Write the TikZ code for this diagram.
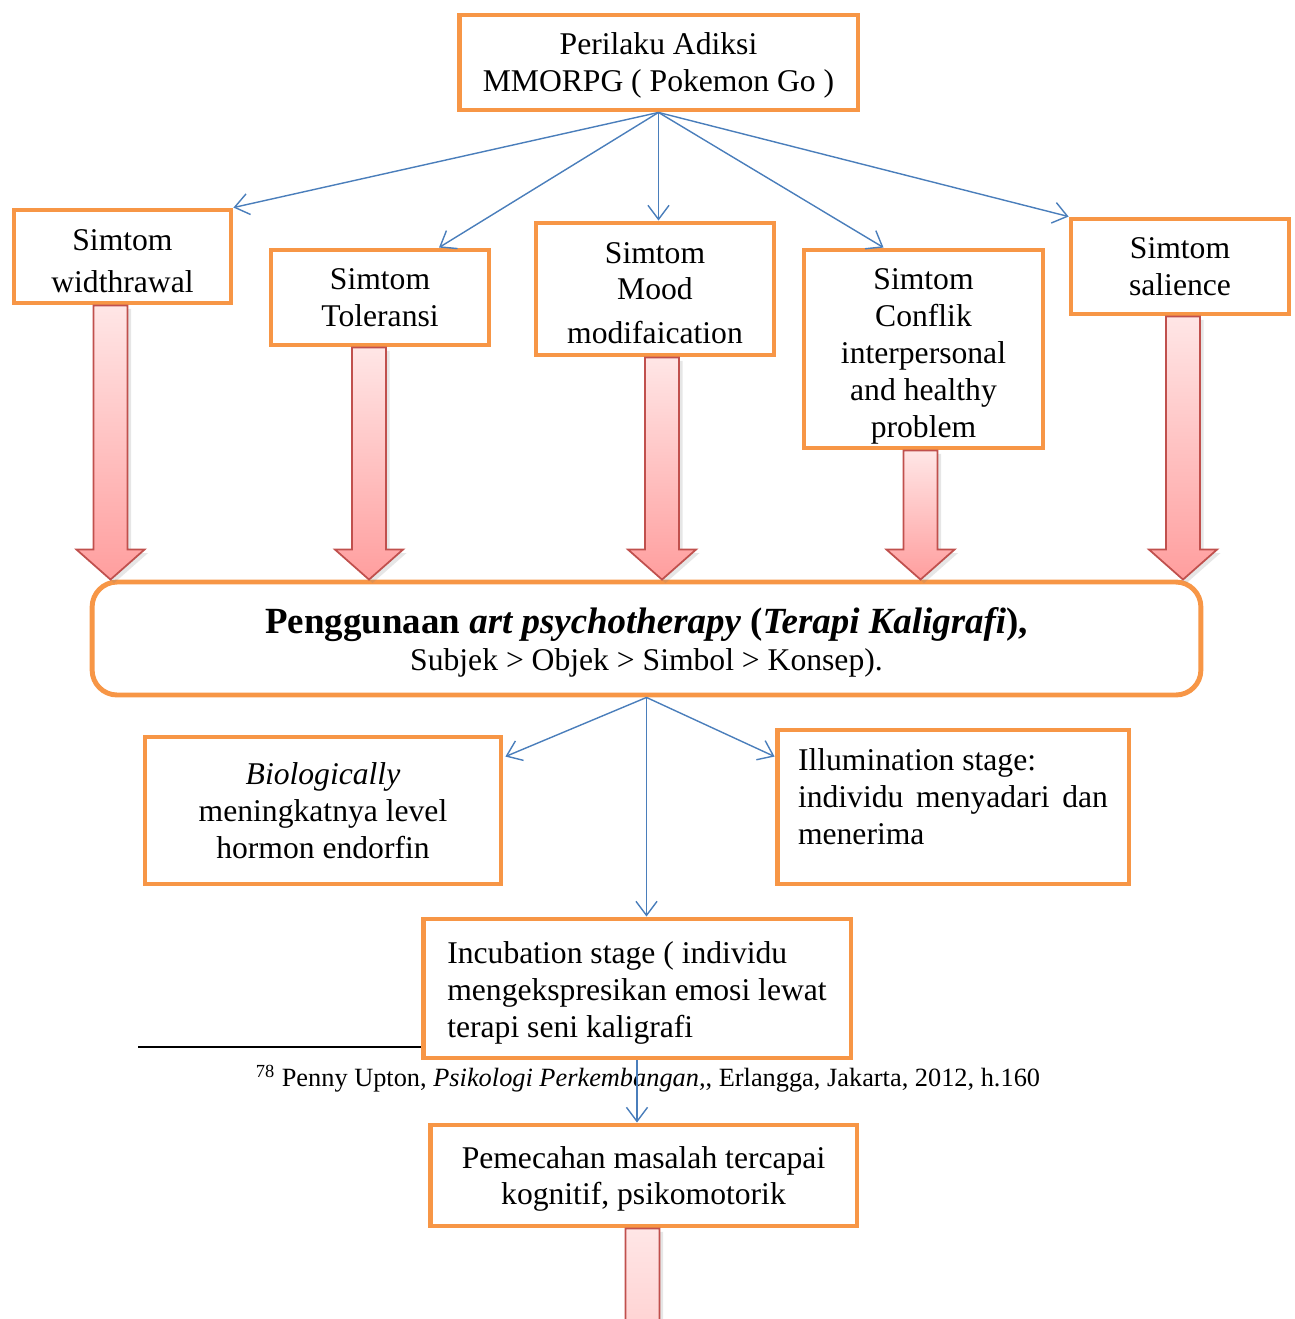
\documentclass[tikz,border=0pt]{standalone}
\usepackage{fontspec}
\setmainfont{Liberation Serif}
\usetikzlibrary{arrows.meta,calc,shadows}

\definecolor{boxorange}{HTML}{F79646}
\definecolor{linkblue}{HTML}{4A7EBB}
\definecolor{arrowred}{HTML}{C0504D}
\definecolor{arrowtop}{HTML}{FFE6E6}
\definecolor{arrowbot}{HTML}{FF9E9E}

% invisible strut that pushes the text of a box down a little
\newcommand{\toppad}[1]{\rule{0pt}{#1}}

% block arrow from #1 (top of shaft) down to the level of #2
\newcommand{\bigarrow}[2]{%
  \shadedraw[bigarrow] ($(#1)+(-17,0)$) -- ($(#1 |- #2)+(-17,-30)$)
    -- ($(#1 |- #2)+(-34,-30)$) -- (#1 |- #2) -- ($(#1 |- #2)+(34,-30)$)
    -- ($(#1 |- #2)+(17,-30)$) -- ($(#1)+(17,0)$) -- cycle;}

\begin{document}
\begin{tikzpicture}[x=0.02cm,y=-0.02cm,
  box/.style={draw=boxorange, line width=2.8pt, fill=white, align=center,
    font=\fontsize{18}{21}\selectfont, inner sep=0pt},
  link/.style={draw=linkblue, line width=0.8pt, -{Straight Barb[length=8pt,width=12pt]}},
  bigarrow/.style={draw=arrowred, line width=1pt, top color=arrowtop, bottom color=arrowbot,
    drop shadow={shadow xshift=2pt, shadow yshift=-2pt, opacity=0.2}}]
\useasboundingbox (0,0) rectangle (1295,1319);
\clip (0,0) rectangle (1295,1319);

% footnote rule (behind the incubation box)
\draw[line width=1.1pt] (138,1047) -- (560,1047);

\node[box, minimum width=7.98cm, minimum height=1.9cm] (top) at (658.5,62.5)
  {\toppad{15.7pt}Perilaku Adiksi\\ MMORPG ( Pokemon Go )};

\node[box, minimum width=4.34cm, minimum height=1.86cm] (w) at (122.5,256.5)
  {\toppad{17.1pt}Simtom\\[3.2pt] widthrawal};
\node[box, minimum width=4.36cm, minimum height=1.9cm] (tol) at (380,297.5) {Simtom\\ Toleransi};
\node[box, minimum width=4.76cm, minimum height=2.64cm] (mood) at (655,289)
  {\toppad{16.3pt}Simtom\\ Mood\\[3.7pt] modifaication};
\node[box, minimum width=4.78cm, minimum height=3.96cm] (conf) at (923.5,349)
  {\toppad{20.2pt}Simtom\\ Conflik\\ interpersonal\\ and healthy\\ problem};
\node[box, minimum width=4.36cm, minimum height=1.9cm] (sal) at (1180,266.5) {Simtom\\ salience};

\node[box, rounded corners=0.5cm, minimum width=22.18cm, minimum height=2.26cm] (terapi) at (646.5,638.5)
  {{\fontsize{21}{24}\selectfont\bfseries\toppad{19pt}Penggunaan \textit{art psychotherapy} (\textit{Terapi Kaligrafi}),}\\
   Subjek > Objek > Simbol > Konsep).};

\node[box, minimum width=7.12cm, minimum height=2.94cm] (bio) at (323,810.5)
  {\textit{Biologically}\\ meningkatnya level\\ hormon endorfin};
\node[box, minimum width=7.04cm, minimum height=3.08cm] (illum) at (953,807)
  {\begin{minipage}[c][2.35cm][t]{6.2cm}Illumination stage:\\
   \makebox[6.2cm][s]{individu menyadari dan}\\menerima\end{minipage}};
\node[box, align=left, minimum width=8.56cm, minimum height=2.78cm] (incub) at (637,988.5)
  {\toppad{17.4pt}Incubation stage ( individu\\ mengekspresikan emosi lewat\\ terapi seni kaligrafi};
\node[box, minimum width=8.54cm, minimum height=2.02cm] (pemec) at (643.5,1175.5)
  {\toppad{16.4pt}Pemecahan masalah tercapai\\ kognitif, psikomotorik};

\node[font=\fontsize{15}{18}\selectfont] (fn) at (648,1079)
  {\textsuperscript{78} Penny Upton, \textit{Psikologi Perkembangan,}, Erlangga, Jakarta, 2012, h.160};

% thin arrows from the top box
\draw[link] (top.south) -- (w.north east);
\draw[link] (top.south) -- ($(tol.north)+(59,0)$);
\draw[link] (top.south) -- (top.south |- mood.north);
\draw[link] (top.south) -- ($(conf.north)+(-40,0)$);
\draw[link] (top.south) -- (sal.north west);

% block arrows into the therapy box
\foreach \n/\dx in {w/-12, tol/-11, mood/7, conf/-3, sal/3} {
  \coordinate (\n a) at ($(\n.south)+(\dx,0)$);
  \bigarrow{\n a}{terapi.north}
}

% thin arrows below the therapy box
\draw[link] (terapi.south) -- ($(bio.north east)+(2,22)$);
\draw[link] (terapi.south) -- ($(illum.north west)+(0,29)$);
\draw[link] (terapi.south) -- (terapi.south |- incub.north);
\draw[link] (incub.south) -- (incub.south |- pemec.north);

% block arrow running off the page
\coordinate (pa) at ($(pemec.south)+(-1,0)$);
\coordinate (offpage) at (642,1600);
\bigarrow{pa}{offpage}
\end{tikzpicture}
\end{document}
